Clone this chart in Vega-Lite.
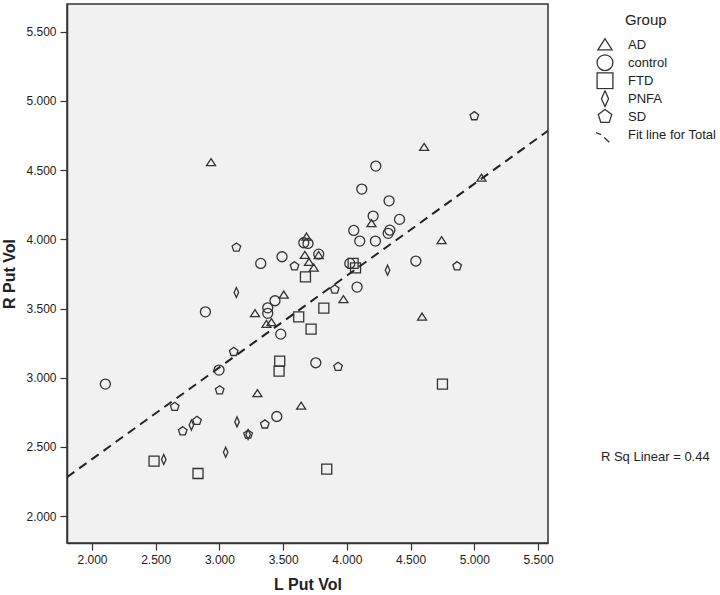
{
  "$schema": "https://vega.github.io/schema/vega-lite/v6.json",
  "width": 481,
  "height": 539,
  "autosize": {"type": "none"},
  "padding": {"left": 67, "top": 4, "right": 172, "bottom": 52},
  "background": "white",
  "config": {
    "font": "Liberation Sans",
    "view": {"fill": "#f1f1f1", "stroke": "#333333", "strokeWidth": 1.5},
    "axis": {
      "grid": false,
      "domainColor": "#333333",
      "domainWidth": 1.5,
      "tickColor": "#333333",
      "tickWidth": 1.2,
      "tickSize": 7,
      "labelFont": "Liberation Sans",
      "labelFontSize": 12,
      "labelColor": "#222222",
      "labelPadding": 4,
      "titleFont": "Liberation Sans",
      "titleFontSize": 16,
      "titleFontWeight": "bold",
      "titleColor": "#222222"
    },
    "legend": {
      "orient": "none",
      "legendX": 529,
      "legendY": 32,
      "symbolSize": 250,
      "symbolStrokeColor": "#333333",
      "symbolStrokeWidth": 1.3,
      "symbolFillColor": "transparent",
      "labelFont": "Liberation Sans",
      "labelFontSize": 13,
      "labelColor": "#222222",
      "labelOffset": 14,
      "gridAlign": "all",
      "clipHeight": 17.4,
      "rowPadding": 0
    }
  },
  "layer": [
    {
      "data": {"values": [
        {"Group": "AD", "lput": 4.606, "rput": 4.666},
        {"Group": "AD", "lput": 2.934, "rput": 4.556},
        {"Group": "AD", "lput": 5.056, "rput": 4.444},
        {"Group": "AD", "lput": 4.193, "rput": 4.115},
        {"Group": "AD", "lput": 4.743, "rput": 3.992},
        {"Group": "AD", "lput": 3.683, "rput": 4.018},
        {"Group": "AD", "lput": 3.779, "rput": 3.885},
        {"Group": "AD", "lput": 3.670, "rput": 3.886},
        {"Group": "AD", "lput": 3.703, "rput": 3.835},
        {"Group": "AD", "lput": 3.740, "rput": 3.794},
        {"Group": "AD", "lput": 3.505, "rput": 3.599},
        {"Group": "AD", "lput": 3.973, "rput": 3.566},
        {"Group": "AD", "lput": 3.279, "rput": 3.465},
        {"Group": "AD", "lput": 3.369, "rput": 3.387},
        {"Group": "AD", "lput": 3.408, "rput": 3.400},
        {"Group": "AD", "lput": 4.590, "rput": 3.440},
        {"Group": "AD", "lput": 3.298, "rput": 2.887},
        {"Group": "AD", "lput": 3.641, "rput": 2.797},
        {"Group": "control", "lput": 4.227, "rput": 4.529},
        {"Group": "control", "lput": 4.117, "rput": 4.363},
        {"Group": "control", "lput": 4.331, "rput": 4.278},
        {"Group": "control", "lput": 4.206, "rput": 4.168},
        {"Group": "control", "lput": 4.413, "rput": 4.144},
        {"Group": "control", "lput": 4.054, "rput": 4.064},
        {"Group": "control", "lput": 4.337, "rput": 4.066},
        {"Group": "control", "lput": 4.324, "rput": 4.043},
        {"Group": "control", "lput": 4.101, "rput": 3.987},
        {"Group": "control", "lput": 4.224, "rput": 3.987},
        {"Group": "control", "lput": 3.662, "rput": 3.975},
        {"Group": "control", "lput": 3.695, "rput": 3.970},
        {"Group": "control", "lput": 3.779, "rput": 3.893},
        {"Group": "control", "lput": 3.491, "rput": 3.874},
        {"Group": "control", "lput": 3.324, "rput": 3.826},
        {"Group": "control", "lput": 4.023, "rput": 3.826},
        {"Group": "control", "lput": 4.541, "rput": 3.843},
        {"Group": "control", "lput": 4.080, "rput": 3.655},
        {"Group": "control", "lput": 3.436, "rput": 3.556},
        {"Group": "control", "lput": 2.890, "rput": 3.476},
        {"Group": "control", "lput": 3.379, "rput": 3.505},
        {"Group": "control", "lput": 3.379, "rput": 3.465},
        {"Group": "control", "lput": 3.481, "rput": 3.315},
        {"Group": "control", "lput": 3.756, "rput": 3.108},
        {"Group": "control", "lput": 2.997, "rput": 3.055},
        {"Group": "control", "lput": 2.105, "rput": 2.954},
        {"Group": "control", "lput": 3.450, "rput": 2.720},
        {"Group": "FTD", "lput": 3.675, "rput": 3.729},
        {"Group": "FTD", "lput": 4.049, "rput": 3.826},
        {"Group": "FTD", "lput": 4.068, "rput": 3.794},
        {"Group": "FTD", "lput": 3.819, "rput": 3.503},
        {"Group": "FTD", "lput": 3.622, "rput": 3.440},
        {"Group": "FTD", "lput": 3.719, "rput": 3.351},
        {"Group": "FTD", "lput": 3.473, "rput": 3.120},
        {"Group": "FTD", "lput": 3.468, "rput": 3.048},
        {"Group": "FTD", "lput": 4.750, "rput": 2.954},
        {"Group": "FTD", "lput": 2.487, "rput": 2.397},
        {"Group": "FTD", "lput": 2.832, "rput": 2.308},
        {"Group": "FTD", "lput": 3.842, "rput": 2.340},
        {"Group": "PNFA", "lput": 4.319, "rput": 3.777},
        {"Group": "PNFA", "lput": 3.133, "rput": 3.616},
        {"Group": "PNFA", "lput": 2.780, "rput": 2.658},
        {"Group": "PNFA", "lput": 3.138, "rput": 2.681},
        {"Group": "PNFA", "lput": 3.225, "rput": 2.590},
        {"Group": "PNFA", "lput": 3.049, "rput": 2.462},
        {"Group": "PNFA", "lput": 2.563, "rput": 2.410},
        {"Group": "SD", "lput": 5.000, "rput": 4.890},
        {"Group": "SD", "lput": 3.133, "rput": 3.941},
        {"Group": "SD", "lput": 3.589, "rput": 3.806},
        {"Group": "SD", "lput": 4.865, "rput": 3.806},
        {"Group": "SD", "lput": 3.905, "rput": 3.638},
        {"Group": "SD", "lput": 3.112, "rput": 3.187},
        {"Group": "SD", "lput": 3.931, "rput": 3.079},
        {"Group": "SD", "lput": 3.002, "rput": 2.910},
        {"Group": "SD", "lput": 2.649, "rput": 2.790},
        {"Group": "SD", "lput": 2.824, "rput": 2.689},
        {"Group": "SD", "lput": 2.712, "rput": 2.614},
        {"Group": "SD", "lput": 3.356, "rput": 2.663},
        {"Group": "SD", "lput": 3.225, "rput": 2.590}
      ]},
      "mark": {"type": "point", "filled": false, "stroke": "#333333", "strokeWidth": 1.3, "size": 100, "opacity": 1},
      "encoding": {
        "x": {"field": "lput", "type": "quantitative",
          "scale": {"domain": [1.804, 5.578], "nice": false, "zero": false},
          "axis": {"title": "L Put Vol", "values": [2, 2.5, 3, 3.5, 4, 4.5, 5, 5.5], "format": ".3f", "titlePadding": 11}},
        "y": {"field": "rput", "type": "quantitative",
          "scale": {"domain": [1.806, 5.7], "nice": false, "zero": false},
          "axis": {"title": "R Put Vol", "values": [2, 2.5, 3, 3.5, 4, 4.5, 5, 5.5], "format": ".3f", "titlePadding": 8}},
        "shape": {"field": "Group", "type": "nominal",
          "scale": {
            "domain": ["AD", "control", "FTD", "PNFA", "SD", "Fit line for Total"],
            "range": [
              "M0,-0.75L0.9,0.65L-0.9,0.65Z",
              "circle",
              "M-1,-1L1,-1L1,1L-1,1Z",
              "M0,-1L0.45,0L0,1L-0.45,0Z",
              "M0,-0.9L0.856,-0.278L0.529,0.728L-0.529,0.728L-0.856,-0.278Z",
              "M-1.6,-0.45L-0.5,0M-0.1,0.35L0.55,0.95"
            ]
          },
          "legend": {"title": null}
        }
      }
    },
    {
      "data": {"values": [
        {"lput": 1.804, "rput": 2.282},
        {"lput": 5.578, "rput": 4.784}
      ]},
      "mark": {"type": "line", "color": "#222222", "strokeWidth": 2, "strokeDash": [9, 6], "clip": true},
      "encoding": {
        "x": {"field": "lput", "type": "quantitative"},
        "y": {"field": "rput", "type": "quantitative"}
      }
    },
    {
      "data": {"values": [
        {"label": "R Sq Linear = 0.44", "lput": 6.42, "rput": 2.426, "size": 13},
        {"label": "Group", "lput": 6.345, "rput": 5.584, "size": 15}
      ]},
      "mark": {"type": "text", "font": "Liberation Sans", "color": "#222222", "align": "center", "baseline": "middle"},
      "encoding": {
        "x": {"field": "lput", "type": "quantitative"},
        "y": {"field": "rput", "type": "quantitative"},
        "text": {"field": "label", "type": "nominal"},
        "size": {"field": "size", "type": "quantitative", "scale": null, "legend": null}
      }
    }
  ]
}
